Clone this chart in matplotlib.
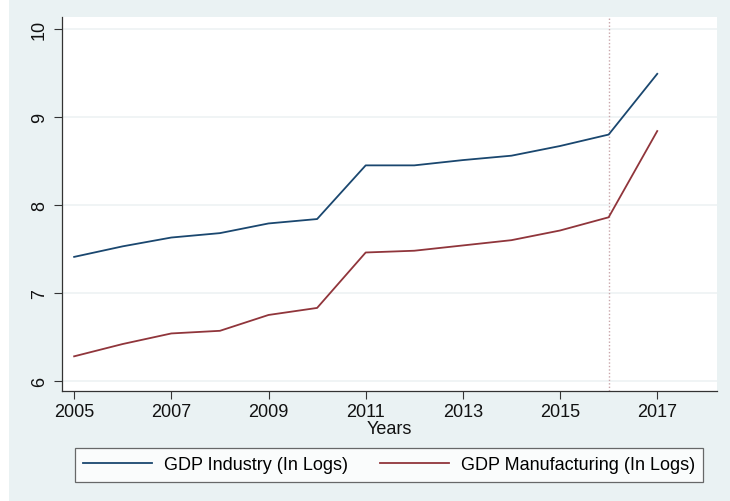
import numpy as np
import matplotlib
matplotlib.use('Agg')
from matplotlib import pyplot as plt
from matplotlib.patches import Rectangle

plt.rcParams['font.family'] = ['Liberation Sans', 'DejaVu Sans']

years = [2005, 2006, 2007, 2008, 2009, 2010, 2011, 2012, 2013, 2014, 2015, 2016, 2017]
gdp_industry = [7.41, 7.53, 7.63, 7.68, 7.79, 7.84, 8.45, 8.45, 8.51, 8.56, 8.67, 8.80, 9.49]
gdp_manufacturing = [6.28, 6.42, 6.54, 6.57, 6.75, 6.83, 7.46, 7.48, 7.54, 7.60, 7.71, 7.86, 8.84]
x_ticks = [2005, 2007, 2009, 2011, 2013, 2015, 2017]
y_ticks = [6, 7, 8, 9, 10]
break_year = 2016

W, H = 730, 502
fig = plt.figure(figsize=(W / 100, H / 100), dpi=100, facecolor='white')
# graph region background (stata s2color style)
fig.patches.append(Rectangle((9 / W, 0), 1 - 9 / W, 1 - 1 / H, transform=fig.transFigure,
                             facecolor='#eaf2f3', edgecolor='none', zorder=-10))

ax = fig.add_axes([62 / W, (H - 392) / H, (717 - 62) / W, (392 - 18) / H])
ax.set_facecolor('white')

for v in y_ticks:
    ax.axhline(v, color='#eef2f3', lw=1.2, zorder=1)
ax.axvline(break_year, color='#c9a6aa', lw=1, ls=(0, (1, 1.5)), zorder=2)

l1, = ax.plot(years, gdp_industry, color='#1a476f', lw=1.3, zorder=3,
              label='GDP Industry (In Logs)')
l2, = ax.plot(years, gdp_manufacturing, color='#90353b', lw=1.3, zorder=3,
              label='GDP Manufacturing (In Logs)')

ax.set_xlim(2004.75, 2018.23)
ax.set_ylim(5.886, 10.136)
ax.set_xticks(x_ticks)
ax.set_yticks(y_ticks)
ax.tick_params(axis='both', labelsize=13, length=6, width=0.8, color='#333333',
               labelcolor='#111111')
plt.setp(ax.get_yticklabels(), rotation=90, va='center')
ax.tick_params(axis='x', pad=3)
ax.tick_params(axis='y', pad=4)
for side in ['top', 'right']:
    ax.spines[side].set_visible(False)
for side in ['left', 'bottom']:
    ax.spines[side].set_color('#333333')
    ax.spines[side].set_linewidth(0.9)
ax.set_xlabel('Years', fontsize=13, labelpad=0, color='#111111')

leg = fig.legend(handles=[l1, l2], loc='center',
                 bbox_to_anchor=(389 / W, 1 - 466 / H), ncol=2, fontsize=13,
                 frameon=True, fancybox=False, handlelength=3.8, columnspacing=1.8,
                 handletextpad=0.65, borderpad=0.45, borderaxespad=0)
leg.get_frame().set_edgecolor('#444444')
leg.get_frame().set_linewidth(0.9)
leg.get_frame().set_facecolor('white')

fig.savefig('out.png', dpi=100, facecolor=fig.get_facecolor())
plt.close()
